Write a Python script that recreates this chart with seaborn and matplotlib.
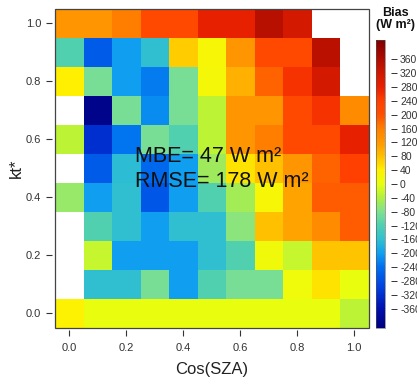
import numpy as np
import pandas as pd
import matplotlib
matplotlib.use("Agg")
import matplotlib.pyplot as plt
import seaborn as sns
from matplotlib.colors import LinearSegmentedColormap
from matplotlib.patches import Rectangle

sns.set_style("white")
plt.rcParams['font.family'] = ['Liberation Sans', 'DejaVu Sans']

# ---- data ----
cos_sza = [0.0, 0.1, 0.2, 0.3, 0.4, 0.5, 0.6, 0.7, 0.8, 0.9, 1.0]
kt_rows = [1.0, 0.9, 0.8, 0.7, 0.6, 0.5, 0.4, 0.3, 0.2, 0.1, 0.0]
nan = np.nan
bias_kt10 = [125, 125, 160, 215, 215, 280, 280, 350, 315, nan, nan]
bias_kt09 = [-120, -265, -200, -160, 70, 25, 125, 215, 215, 345, nan]
bias_kt08 = [40, -85, -200, -230, -85, 20, 95, 185, 255, 315, nan]
bias_kt07 = [nan, -400, -85, -215, -85, -30, 125, 125, 215, 255, 140]
bias_kt06 = [-30, -320, -235, -85, -120, -30, 125, 160, 215, 215, 280]
bias_kt05 = [nan, -265, -165, -250, -200, -55, 50, 80, 125, 185, 240]
bias_kt04 = [-60, -200, -160, -270, -200, -120, -50, 25, 110, 190, 190]
bias_kt03 = [nan, -120, -160, -200, -160, -160, -70, 80, 110, 140, 190]
bias_kt02 = [nan, -25, -200, -200, -200, -160, -120, 15, -25, 75, 75]
bias_kt01 = [nan, -160, -160, -85, -200, -120, -85, -85, 10, 50, 0]
bias_kt00 = [35, 0, 0, 0, 0, 0, 0, 0, 0, 0, -30]

x_tick_values = [0.0, 0.2, 0.4, 0.6, 0.8, 1.0]
y_tick_values = [0.0, 0.2, 0.4, 0.6, 0.8, 1.0]
cbar_ticks = list(range(-360, 361, 40))
bias_limit = 416
mbe_text = "MBE= 47 W m\u00b2"
rmse_text = "RMSE= 178 W m\u00b2"

# colour scale
cmap_stops = [(-416, "#000080"), (-360, "#0010B0"), (-300, "#0040E0"),
              (-240, "#0070F0"), (-200, "#10A0F0"), (-160, "#30C0D0"),
              (-120, "#50D0B0"), (-80, "#80E090"), (-40, "#B0F040"),
              (0, "#E8FF10"), (40, "#FFF000"), (80, "#FFC000"),
              (120, "#FF9800"), (160, "#FF8000"), (200, "#FF5000"),
              (240, "#FF4000"), (280, "#E82000"), (320, "#D01800"),
              (360, "#B00C00"), (416, "#800000")]
cmap = LinearSegmentedColormap.from_list(
    "bias", [((v + bias_limit) / (2 * bias_limit), c) for v, c in cmap_stops])

bias = pd.DataFrame([bias_kt10, bias_kt09, bias_kt08, bias_kt07, bias_kt06,
                     bias_kt05, bias_kt04, bias_kt03, bias_kt02, bias_kt01,
                     bias_kt00], index=kt_rows, columns=cos_sza)

# ---- figure ----
W, H = 417, 385
fig = plt.figure(figsize=(W / 100, H / 100), dpi=100)
ax = fig.add_axes([55 / W, 1 - 327.5 / H, 313.5 / W, 319 / H])
cax = fig.add_axes([375.5 / W, 1 - 328 / H, 10 / W, 288 / H])

sns.heatmap(bias, cmap=cmap, vmin=-bias_limit, vmax=bias_limit, ax=ax,
            cbar_ax=cax, cbar=True, square=False, linewidths=0)

# axes ticks
ax.set_xticks([cos_sza.index(v) + 0.5 for v in x_tick_values])
ax.set_xticklabels([f"{v:.1f}" for v in x_tick_values], rotation=0)
ax.set_yticks([kt_rows.index(v) + 0.5 for v in y_tick_values])
ax.set_yticklabels([f"{v:.1f}" for v in y_tick_values], rotation=90,
                   va="center")
ax.tick_params(axis="both", which="both", direction="out", length=4,
               width=0.8, colors="#333333", labelsize=8, pad=5,
               bottom=True, left=True)
ax.tick_params(axis="y", pad=4)
for side in ["left", "bottom"]:
    ax.spines[side].set_visible(False)
    ax.spines[side].set_position(("outward", 2))
for side in ["right", "top"]:
    ax.spines[side].set_visible(False)
ax.add_patch(Rectangle((0, 0), 1, 1, transform=ax.transAxes, fill=False,
                       ec="#444444", lw=0.9, clip_on=False, zorder=5))

ax.set_xlabel("Cos(SZA)", fontsize=12, color="#222222")
ax.set_ylabel("kt*", fontsize=12, color="#222222")
ax.xaxis.set_label_coords(0.5, -0.108)
ax.yaxis.set_label_coords(-0.098, 0.5)

# statistics text
ax.text(cos_sza.index(0.2) + 0.81, kt_rows.index(0.5) - 0.41 + 0.5, mbe_text,
        fontsize=15.5, color="#111111", ha="left", va="center")
ax.text(cos_sza.index(0.2) + 0.81, kt_rows.index(0.5) + 0.45 + 0.5, rmse_text,
        fontsize=15.5, color="#111111", ha="left", va="center")

# colorbar
cbar = ax.collections[0].colorbar
cbar.set_ticks(cbar_ticks)
cbar.set_ticklabels([str(t) for t in cbar_ticks])
cbar.outline.set_linewidth(0.4)
cbar.outline.set_edgecolor("#555555")
cax.yaxis.set_ticks_position("right")
cax.spines["right"].set_position(("outward", 4))
cax.tick_params(axis="y", direction="out", length=4, width=0.7,
                colors="#333333", labelsize=7.5, pad=2.5)
for lbl in cax.get_yticklabels():
    lbl.set_horizontalalignment("left")

fig.text(395 / W, 1 - 13 / H, "Bias", ha="center", va="center",
         fontsize=9, fontweight="bold", color="#111111")
fig.text(395 / W, 1 - 25 / H, "(W m\u00b2)", ha="center", va="center",
         fontsize=9, fontweight="bold", color="#111111")

fig.savefig("out.png", dpi=100)
